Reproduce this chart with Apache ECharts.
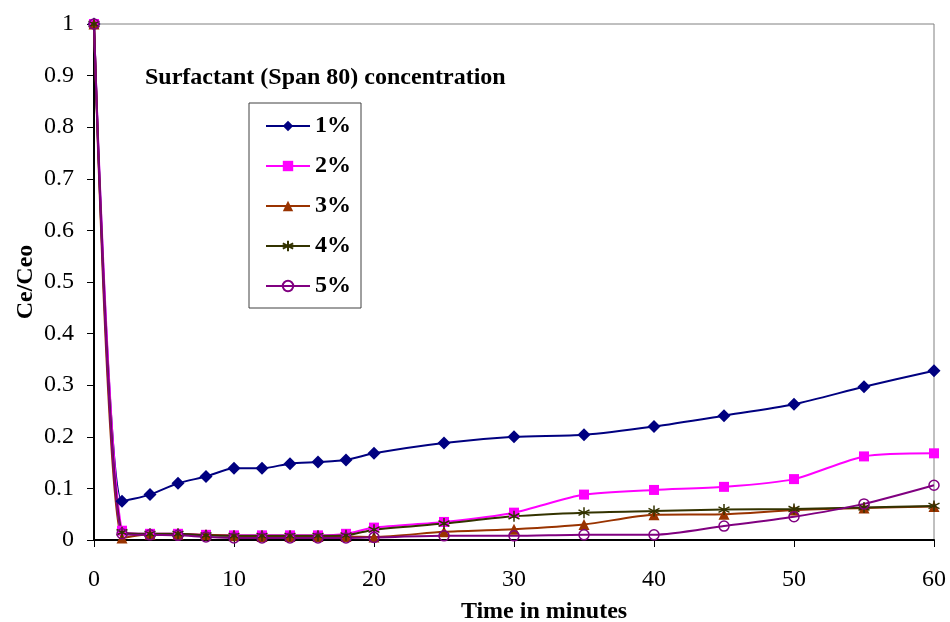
<!DOCTYPE html>
<html>
<head>
    <meta charset="utf-8">
    <script src="https://cdn.jsdelivr.net/npm/echarts@6/dist/echarts.min.js"></script>
</head>
<body style="margin: 0; background: #fff">
    <div id = "main" style = "width: 950px; height: 622px"></div>
    <script type = "text/javascript">
        // time in minutes
        var times = [0, 2, 4, 6, 8, 10, 12, 14, 16, 18, 20, 25, 30, 35, 40, 45, 50, 55, 60];
        var s1 = [1, 0.075, 0.088, 0.11, 0.123, 0.139, 0.139, 0.148, 0.151, 0.155, 0.168, 0.188, 0.2, 0.204, 0.22, 0.241, 0.263, 0.297, 0.328];
        var s2 = [1, 0.018, 0.012, 0.012, 0.01, 0.009, 0.009, 0.009, 0.009, 0.012, 0.024, 0.035, 0.053, 0.088, 0.097, 0.103, 0.118, 0.162, 0.168];
        var s3 = [1, 0.004, 0.011, 0.011, 0.01, 0.008, 0.007, 0.007, 0.007, 0.007, 0.006, 0.016, 0.021, 0.03, 0.049, 0.05, 0.058, 0.062, 0.065];
        var s4 = [1, 0.015, 0.012, 0.012, 0.009, 0.008, 0.008, 0.008, 0.008, 0.009, 0.02, 0.032, 0.046, 0.053, 0.056, 0.059, 0.06, 0.063, 0.066];
        var s5 = [1, 0.012, 0.01, 0.009, 0.006, 0.004, 0.004, 0.004, 0.004, 0.004, 0.005, 0.008, 0.008, 0.01, 0.01, 0.027, 0.045, 0.07, 0.106];
        var seriesNames = ['1%', '2%', '3%', '4%', '5%'];
        var xTicks = [0, 10, 20, 30, 40, 50, 60];
        var yTicks = [0, 0.1, 0.2, 0.3, 0.4, 0.5, 0.6, 0.7, 0.8, 0.9, 1];

        var serif = '"Liberation Serif", "Times New Roman", serif';
        var asterisk = 'path://M10,0 L10,20 M1.3,5 L18.7,15 M1.3,15 L18.7,5';

        function pairs(vals) {
            var out = [];
            for (var i = 0; i < times.length; i++) {
                out.push([times[i], vals[i]]);
            }
            return out;
        }

        function makeSeries(name, vals, color, symbol, size, fill, bw) {
            return {
                name: name,
                type: 'line',
                smooth: 0.25,
                data: pairs(vals),
                symbol: symbol,
                symbolSize: size,
                showAllSymbol: true,
                lineStyle: { color: color, width: 2 },
                itemStyle: { color: fill, borderColor: color, borderWidth: bw },
                emphasis: { disabled: true }
            };
        }

        window.onload = function () {
            var myChart = echarts.init(document.getElementById('main'));
            var serie = [
                makeSeries(seriesNames[0], s1, '#000080', 'diamond', 13, '#000080', 0),
                makeSeries(seriesNames[1], s2, '#ff00ff', 'rect', 10, '#ff00ff', 0),
                makeSeries(seriesNames[2], s3, '#993300', 'triangle', 11, '#993300', 0),
                makeSeries(seriesNames[3], s4, '#333300', asterisk, 11, 'none', 1.5),
                makeSeries(seriesNames[4], s5, '#800080', 'circle', 10, 'rgba(255,255,255,0)', 1.5)
            ];
            var option = {
                animation: false,
                grid: {
                    left: 94, right: 16, top: 24, bottom: 82,
                    outerBoundsMode: 'none',
                    containLabel: false,
                    show: true, borderColor: '#808080', borderWidth: 1
                },
                title: {
                    text: 'Surfactant (Span 80) concentration',
                    left: 140, top: 61,
                    textStyle: { fontFamily: serif, fontSize: 24, fontWeight: 'bold', color: '#000' }
                },
                legend: {
                    orient: 'vertical',
                    left: 249, top: 103,
                    width: 111,
                    padding: [11, 10, 10, 16],
                    itemGap: 16,
                    itemWidth: 44,
                    itemHeight: 13,
                    borderColor: '#404040',
                    borderWidth: 1,
                    data: seriesNames,
                    textStyle: { fontFamily: serif, fontSize: 24, fontWeight: 'bold', color: '#000' }
                },
                xAxis: {
                    type: 'value',
                    min: 0, max: 60, interval: 10,
                    name: 'Time in minutes',
                    nameLocation: 'middle',
                    nameGap: 60,
                    nameTextStyle: {
                        fontFamily: serif, fontSize: 24, fontWeight: 'bold', color: '#000',
                        padding: [0, 0, 0, 60]
                    },
                    axisLine: { lineStyle: { color: '#000', width: 2 } },
                    axisTick: { show: true, length: 7, lineStyle: { color: '#000' } },
                    axisLabel: {
                        margin: 28, fontFamily: serif, fontSize: 24, color: '#000',
                        formatter: function (v) { return xTicks.indexOf(v) >= 0 ? String(v) : ''; }
                    },
                    splitLine: { show: false }
                },
                yAxis: {
                    type: 'value',
                    min: 0, max: 1, interval: 0.1,
                    name: 'Ce/Ceo',
                    nameLocation: 'middle',
                    nameGap: 56,
                    nameMoveOverlap: false,
                    nameTextStyle: { fontFamily: serif, fontSize: 24, fontWeight: 'bold', color: '#000' },
                    axisLine: { show: true, lineStyle: { color: '#000', width: 2 } },
                    axisTick: { show: true, length: 7, lineStyle: { color: '#000' } },
                    axisLabel: {
                        margin: 20, fontFamily: serif, fontSize: 24, color: '#000',
                        formatter: function (v) {
                            var r = Math.round(v * 10) / 10;
                            return yTicks.indexOf(r) >= 0 ? String(r) : '';
                        }
                    },
                    splitLine: { show: false }
                },
                series: serie
            };
            myChart.setOption(option);
        }
    </script>
</body>
</html>
